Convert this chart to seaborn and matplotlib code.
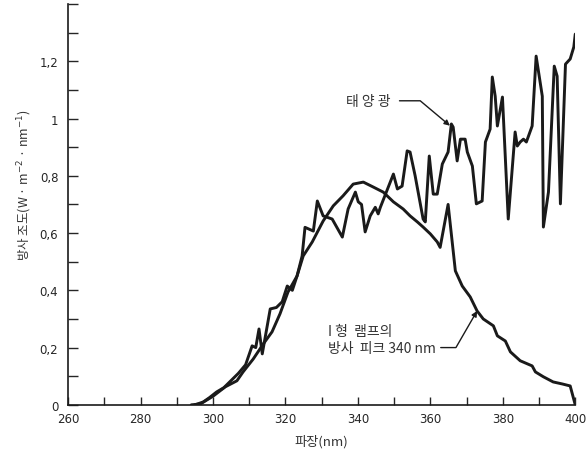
import numpy as np
import pandas as pd
import matplotlib
matplotlib.use("Agg")
import matplotlib.pyplot as plt
import seaborn as sns

# Data
# Type I lamp emission (smooth bell curve)
lamp_nm = [294, 296.5, 300, 303.4, 306.6, 308.3, 311.1, 313.9, 316.3, 318.5, 320.7,
           323.2, 324.9, 327.4, 330.4, 333.2, 335.9, 338.7, 341.5, 344.2, 347.0,
           349.8, 352.5, 354.4, 356.4, 358.0, 360.0, 361.9, 362.7, 364.9, 366.9,
           368.8, 371.0, 372.9, 374.6, 377.4, 378.5, 380.7, 382.1, 384.8, 388.1,
           389.0, 391.2, 393.9, 396.4, 398.6, 400]
lamp_val = [0, 0.003, 0.03, 0.063, 0.084, 0.115, 0.16, 0.213, 0.255, 0.318, 0.394,
            0.45, 0.52, 0.569, 0.642, 0.695, 0.73, 0.771, 0.778, 0.761, 0.743,
            0.709, 0.684, 0.66, 0.639, 0.621, 0.597, 0.569, 0.55, 0.70, 0.468,
            0.415, 0.377, 0.328, 0.300, 0.276, 0.241, 0.223, 0.185, 0.154, 0.136,
            0.115, 0.098, 0.080, 0.073, 0.066, 0.0]

# Sunlight (jagged curve)
sun_nm = [295, 297.3, 299, 301, 303, 305, 307, 309, 310.8, 311.8, 312.7, 313.6,
          315.8, 317.5, 319.1, 320.5, 321.9, 323.2, 324.6, 325.4, 327.7, 328.8,
          330.4, 332.9, 335.7, 337.3, 339.3, 340.1, 341.0, 342.0, 343.4, 344.8,
          345.6, 346.2, 349.8, 350.9, 352.2, 353.6, 354.4, 355.8, 358.0, 358.6,
          359.7, 360.8, 361.9, 363.3, 364.9, 365.8, 366.3, 367.4, 368.3, 369.6,
          370.2, 371.6, 372.7, 374.3, 375.2, 376.5, 377.1, 377.9, 378.5, 379.9,
          381.5, 383.4, 384.0, 384.8, 385.7, 386.5, 388.1, 389.2, 390.9, 391.2,
          392.6, 394.2, 395.0, 395.9, 397.3, 398.6, 399.6, 400]
sun_val = [0, 0.01, 0.025, 0.045, 0.06, 0.085, 0.11, 0.14, 0.206, 0.2, 0.265, 0.178,
           0.335, 0.34, 0.36, 0.415, 0.40, 0.45, 0.52, 0.62, 0.607, 0.712,
           0.66, 0.649, 0.586, 0.684, 0.743, 0.709, 0.70, 0.604, 0.66, 0.69,
           0.667, 0.69, 0.806, 0.754, 0.764, 0.887, 0.883, 0.8, 0.649, 0.639,
           0.869, 0.736, 0.736, 0.841, 0.883, 0.981, 0.97, 0.852, 0.928, 0.928,
           0.883, 0.834, 0.702, 0.712, 0.918, 0.963, 1.145, 1.078, 0.974, 1.075,
           0.649, 0.953, 0.904, 0.918, 0.928, 0.918, 0.974, 1.218, 1.078, 0.621,
           0.743, 1.183, 1.148, 0.702, 1.19, 1.208, 1.25, 1.295]

x_ticks = [260, 270, 280, 290, 300, 310, 320, 330, 340, 350, 360, 370, 380, 390, 400]
x_labels = ["260", "", "280", "", "300", "", "320", "", "340", "", "360", "", "380", "", "400"]
y_ticks = [0, 0.1, 0.2, 0.3, 0.4, 0.5, 0.6, 0.7, 0.8, 0.9, 1.0, 1.1, 1.2, 1.3, 1.4]
y_labels = ["0", "", "0,2", "", "0,4", "", "0,6", "", "0,8", "", "1", "", "1,2", "", ""]

lamp = pd.DataFrame({"nm": lamp_nm, "val": lamp_val})
sun = pd.DataFrame({"nm": sun_nm, "val": sun_val})

sns.set_style("ticks")
plt.rcParams["font.family"] = ["DejaVu Sans"]
kr = ["Noto Sans CJK KR", "DejaVu Sans"]

fig = plt.figure(figsize=(5.87, 4.56), dpi=100)
ax = fig.add_axes([0.116, 0.11, 0.864, 0.879])

sns.lineplot(data=lamp, x="nm", y="val", ax=ax, color="#1a1a1a", lw=2.1,
             sort=False, estimator=None)
sns.lineplot(data=sun, x="nm", y="val", ax=ax, color="#1a1a1a", lw=2.1,
             sort=False, estimator=None)

ax.set_xlim(260, 400)
ax.set_ylim(0, 1.4)
ax.set_xticks(x_ticks, x_labels)
ax.set_yticks(y_ticks, y_labels)
ax.tick_params(axis="x", direction="in", length=5.5, width=1, pad=5, labelsize=8.5)
ax.tick_params(axis="y", direction="in", length=7, width=1, pad=7, labelsize=8.5)
for s in ["top", "right"]:
    ax.spines[s].set_visible(False)
for s in ["left", "bottom"]:
    ax.spines[s].set_linewidth(1.2)
    ax.spines[s].set_color("#1a1a1a")

ax.set_xlabel("파장(nm)", family=kr, fontsize=9.5, labelpad=7, color="#333333")
ax.set_ylabel("방사 조도(W · m$^{-2}$ · nm$^{-1}$)", family=kr, fontsize=9,
              color="#333333")
ax.yaxis.set_label_coords(-0.068, 0.55)

# Annotations
ax.annotate("태 양 광", xy=(365.4, 0.975), xytext=(342.9, 1.062), family=kr,
            fontsize=10, ha="center", va="center", color="#333333",
            arrowprops=dict(arrowstyle="-|>", color="#1a1a1a", lw=1,
                            mutation_scale=8, shrinkA=4, shrinkB=0,
                            connectionstyle="angle,angleA=0,angleB=140,rad=0"))
ax.text(331.8, 0.258, "I 형  램프의", family=kr, fontsize=10, ha="left",
        va="center", color="#333333")
ax.annotate("방사  피크 340 nm", xy=(372.9, 0.328), xytext=(331.8, 0.2),
            family=kr, fontsize=10, ha="left", va="center", color="#333333",
            arrowprops=dict(arrowstyle="-|>", color="#1a1a1a", lw=1,
                            mutation_scale=8, shrinkA=1, shrinkB=0,
                            connectionstyle="angle,angleA=0,angleB=60,rad=0"))

fig.savefig("out.png", dpi=100)
